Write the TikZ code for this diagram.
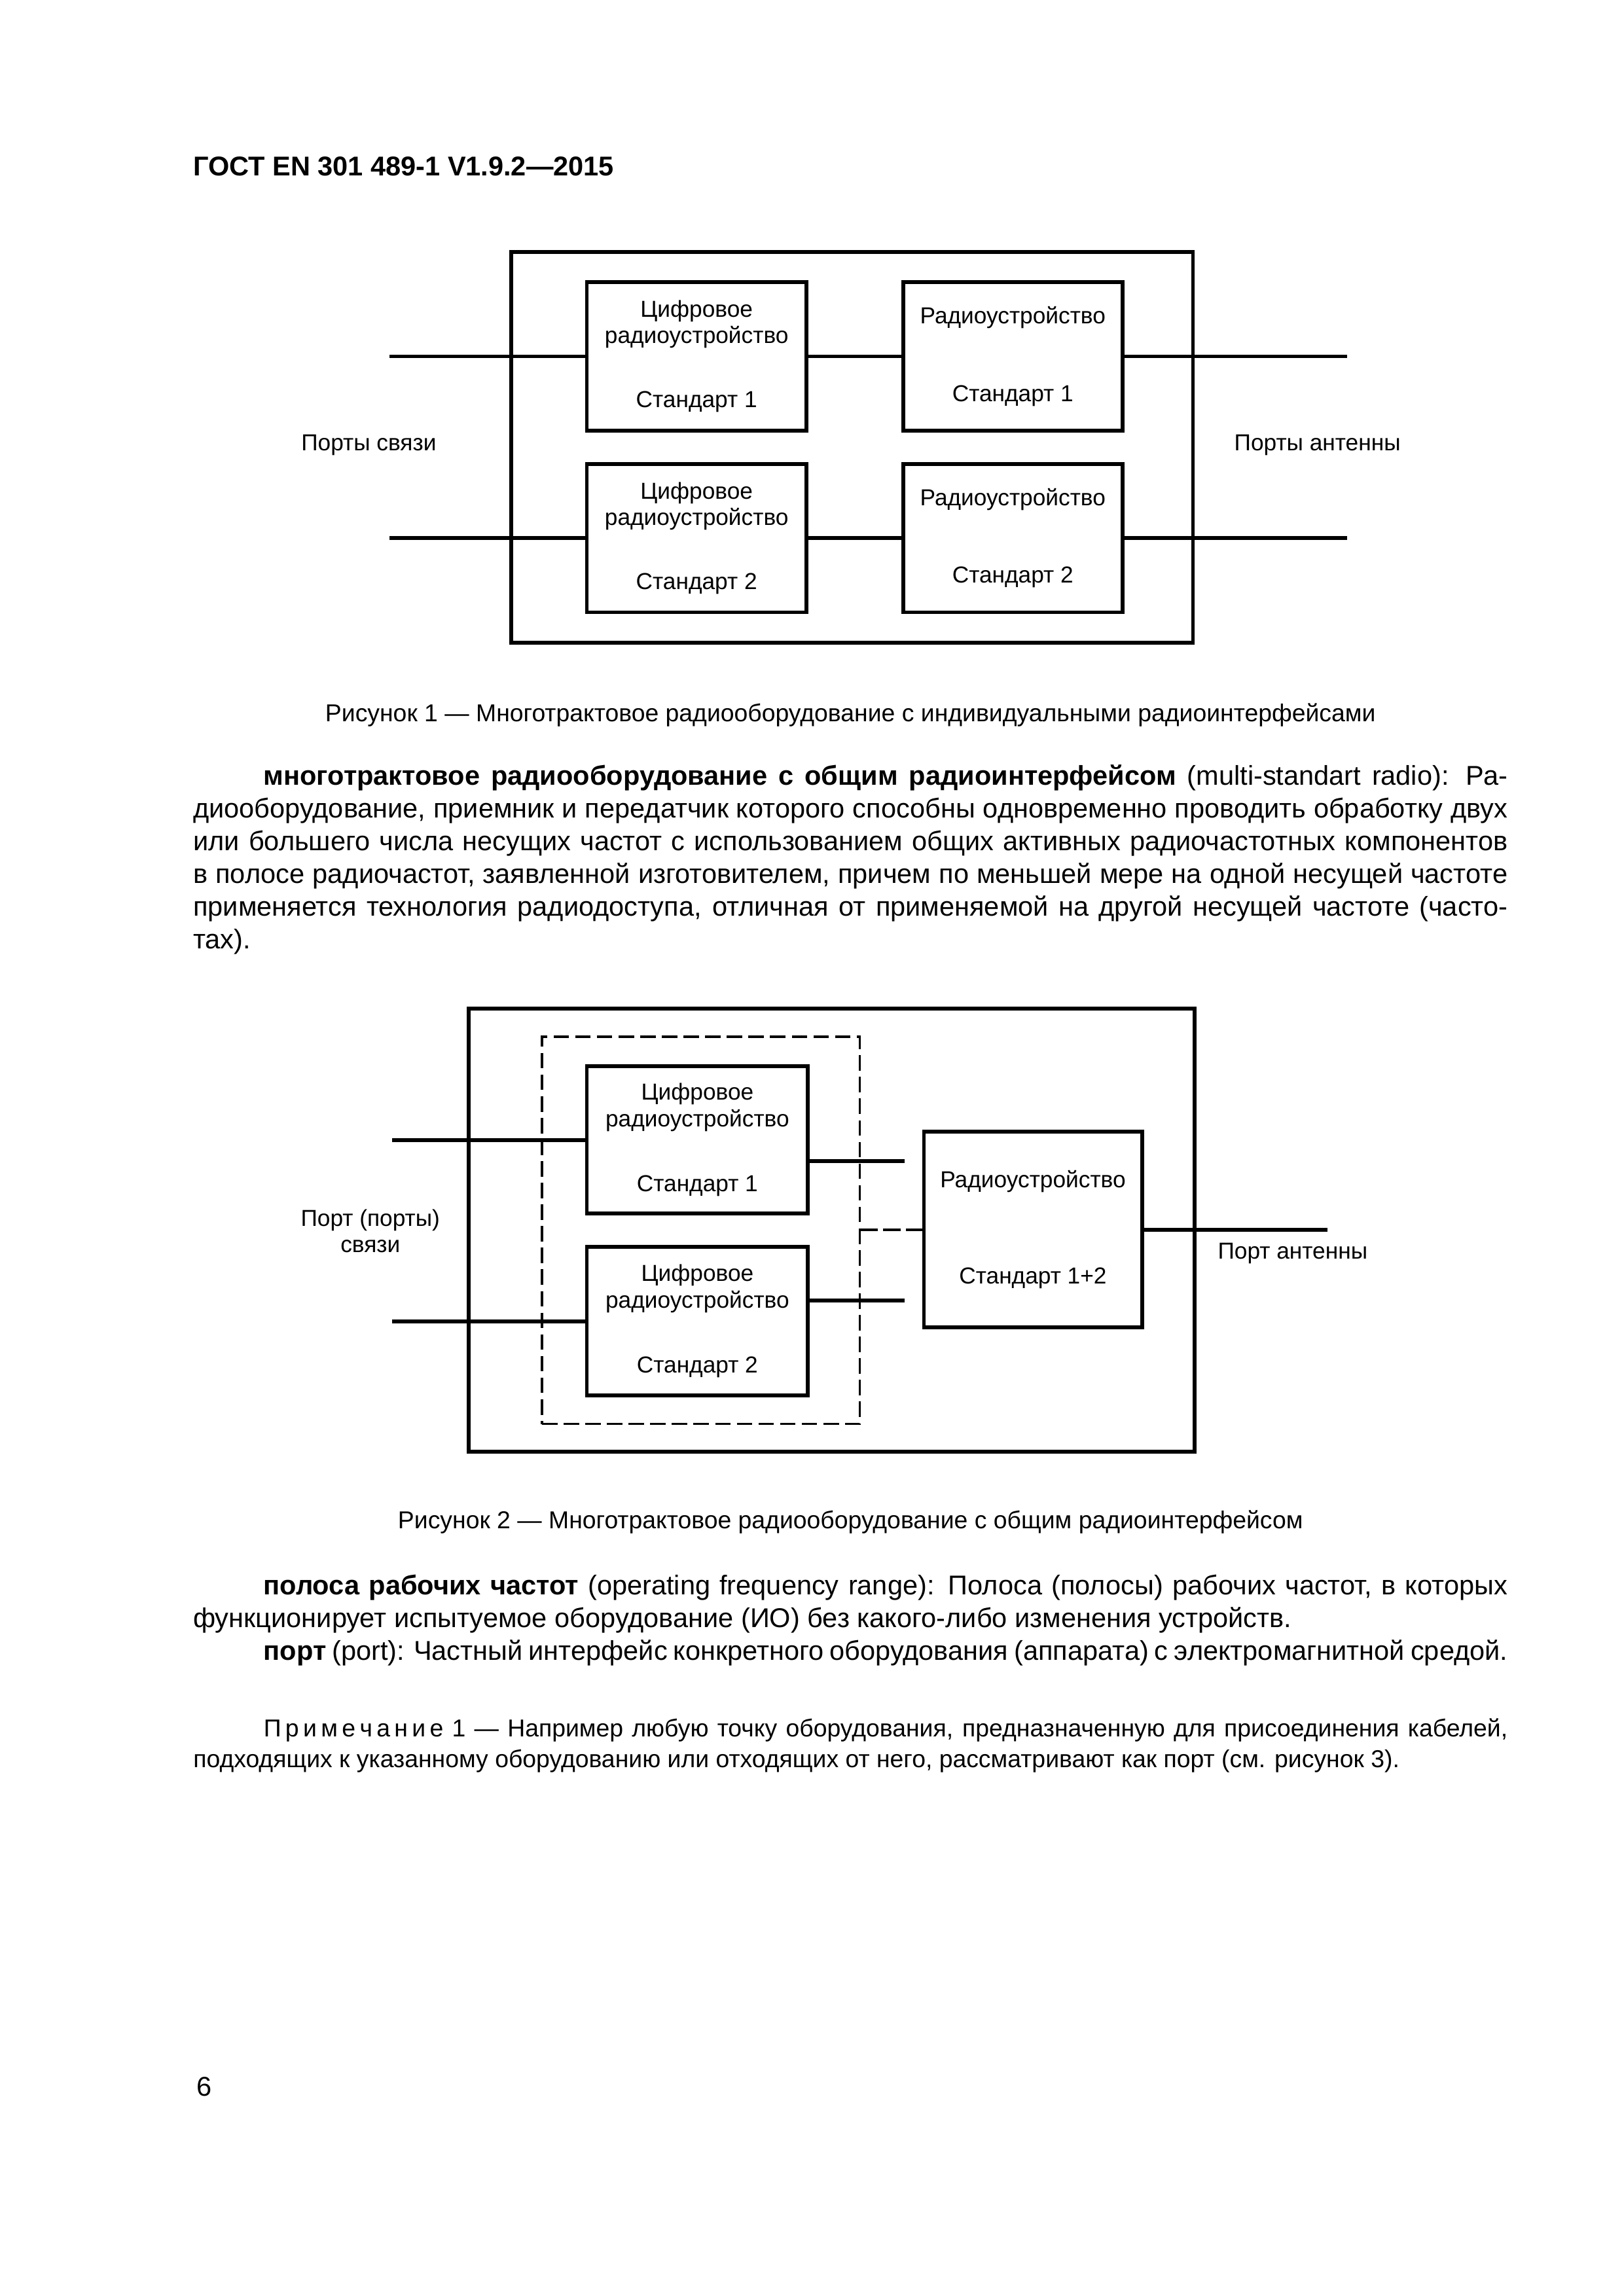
\documentclass[tikz,border=0pt]{standalone}
\usepackage{fontspec}
\setmainfont{Liberation Sans}
\usetikzlibrary{positioning}
\newcommand{\lsp}{\hspace{0.17em}}

\begin{document}
\begin{tikzpicture}[x=1mm, y=-1mm,
  every node/.style={inner sep=0pt, outer sep=0pt},
  frame/.style={rectangle, draw, line width=0.5mm},
  unit/.style={rectangle, draw, line width=0.5mm, align=center, font=\fontsize{8.5}{9.7}\selectfont},
  group/.style={rectangle, draw, line width=0.3mm, dash pattern=on 2mm off 0.8mm},
  wire/.style={line width=0.5mm},
  dwire/.style={line width=0.35mm, dash pattern=on 2.3mm off 0.7mm},
  portlbl/.style={align=center, font=\fontsize{8.5}{9.7}\selectfont},
  capt/.style={anchor=base, font=\fontsize{9}{11}\selectfont},
  body/.style={anchor=north west, text width=170mm, align=justify, font=\fontsize{10}{12.05}\selectfont},
  note/.style={anchor=north west, text width=170mm, align=justify, font=\fontsize{9}{11.3}\selectfont},
]
\fill[white] (0,0) rectangle (210,297);
\useasboundingbox (0,0) rectangle (210,297);

% Header
\node[anchor=base west, font=\fontsize{10}{12}\selectfont\bfseries] (head) at (25, 22.7) {ГОСТ EN 301 489-1 V1.9.2—2015};

% Figure 1
\node[frame, minimum width=88.2mm, minimum height=50.5mm] (box1) at (110.2, 57.85) {};
\node[unit, minimum width=28.4mm, minimum height=19.2mm] (dig1) at (90.1, 46.1) {Цифровое\\радиоустройство\\[4.9mm]Стандарт 1};
\node[unit, minimum width=28.4mm, minimum height=19.2mm] (dig2) at (90.1, 69.6) {Цифровое\\радиоустройство\\[4.9mm]Стандарт 2};
\node[unit, minimum width=28.4mm, minimum height=19.2mm] (rad1) at (131.0, 46.1) {Радиоустройство\\[6.6mm]Стандарт 1};
\node[unit, minimum width=28.4mm, minimum height=19.2mm] (rad2) at (131.0, 69.6) {Радиоустройство\\[6.6mm]Стандарт 2};
\coordinate (in1) at (50.4, 46.1);
\coordinate (in2) at (50.4, 69.6);
\coordinate (out1) at (174.2, 46.1);
\coordinate (out2) at (174.2, 69.6);
\node[portlbl] (comm1) at (47.7, 57.6) {Порты связи};
\node[portlbl] (ant1) at (170.4, 57.6) {Порты антенны};

\draw[wire] (in1) -- (dig1.west);
\draw[wire] (in2) -- (dig2.west);
\draw[wire] (dig1) -- (rad1);
\draw[wire] (dig2) -- (rad2);
\draw[wire] (rad1.east) -- (out1);
\draw[wire] (rad2.east) -- (out2);

\node[capt] (cap1) at (110, 93.3) {Рисунок 1 — Многотрактовое радиооборудование с индивидуальными радиоинтерфейсами};

% Definition
\node[body] (def1) at (25, 98.6) {\hspace*{9.1mm}\strut\textbf{многотрактовое радиооборудование с общим радиоинтерфейсом} (multi-standart radio): Ра-\linebreak диооборудование, приемник и передатчик которого способны одновременно проводить обработку двух\linebreak или большего числа несущих частот с использованием общих активных радиочастотных компонентов\linebreak в полосе радиочастот, заявленной изготовителем, причем по меньшей мере на одной несущей частоте\linebreak применяется технология радиодоступа, отличная от применяемой на другой несущей частоте (часто-\linebreak тах).};

% Figure 2
\node[frame, minimum width=93.9mm, minimum height=57.3mm] (box2) at (107.55, 159.15) {};
\node[group, minimum width=41.1mm, minimum height=50.1mm] (grp) at (90.65, 159.15) {};
\node[unit, minimum width=28.6mm, minimum height=19.1mm] (dig3) at (90.2, 147.45) {Цифровое\\радиоустройство\\[5mm]Стандарт 1};
\node[unit, minimum width=28.6mm, minimum height=19.2mm] (dig4) at (90.2, 170.9) {Цифровое\\радиоустройство\\[5mm]Стандарт 2};
\node[unit, minimum width=28.2mm, minimum height=25.3mm] (rad3) at (133.6, 159.05) {Радиоустройство\\[9.1mm]Стандарт 1+2};
\coordinate (in3) at (50.7, 147.45);
\coordinate (in4) at (50.7, 170.9);
\coordinate (stub3) at (117.0, 150.2);
\coordinate (stub4) at (117.0, 168.2);
\coordinate (out3) at (171.7, 159.05);
\node[portlbl] (comm2) at (47.9, 159.25) {Порт (порты)\\связи};
\node[portlbl] (ant2) at (167.2, 162.1) {Порт антенны};

\draw[wire] (in3) -- (dig3.west);
\draw[wire] (in4) -- (dig4.west);
\draw[wire] (dig3.east |- stub3) -- (stub3);
\draw[wire] (dig4.east |- stub4) -- (stub4);
\draw[dwire] (grp.east |- rad3.west) -- (rad3.west);
\draw[wire] (rad3.east) -- (out3);

\node[capt] (cap2) at (110, 197.7) {Рисунок 2 — Многотрактовое радиооборудование с общим радиоинтерфейсом};

% Terms
\node[body] (def2) at (25, 203.3) {\hspace*{9.1mm}\strut\textbf{полоса рабочих частот} (operating frequency range): Полоса (полосы) рабочих частот, в которых\linebreak функционирует испытуемое оборудование (ИО) без какого-либо изменения устройств.\\ \hspace*{9.1mm}\textbf{порт} (port): Частный интерфейс конкретного оборудования (аппарата) с электромагнитной средой.};

\node[note] (note1) at (25, 221.9) {\hspace*{9.1mm}\strut П\lsp р\lsp и\lsp м\lsp е\lsp ч\lsp а\lsp н\lsp и\lsp е 1 — Например любую точку оборудования, предназначенную для присоединения кабелей,\linebreak подходящих к указанному оборудованию или отходящих от него, рассматривают как порт (см. рисунок 3).};

% Page number
\node[anchor=base west, font=\fontsize{10}{12}\selectfont] (pnum) at (25.4, 271.1) {6};
\end{tikzpicture}
\end{document}
